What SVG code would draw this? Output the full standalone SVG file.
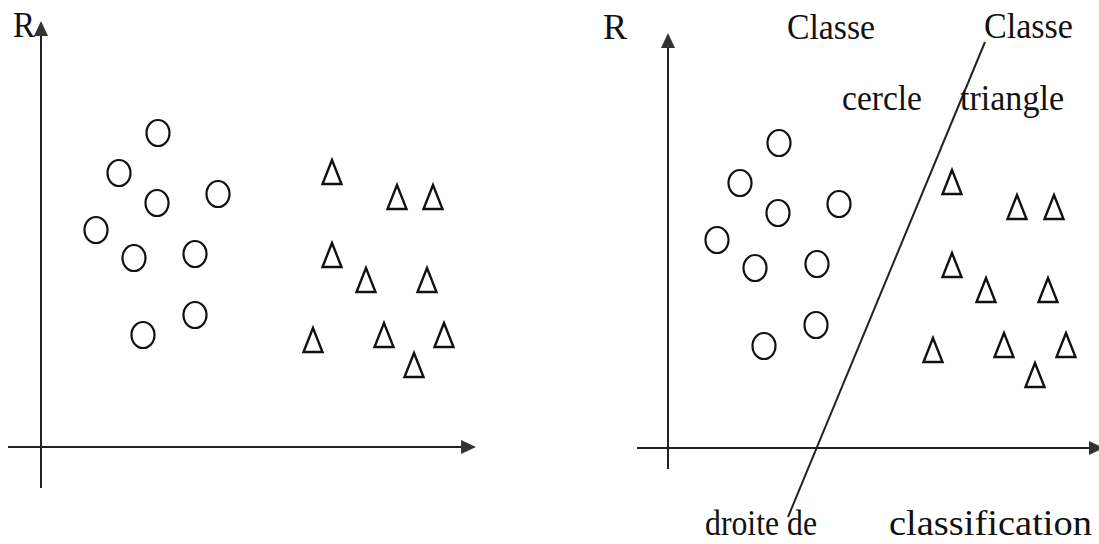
<svg xmlns="http://www.w3.org/2000/svg" xmlns:xlink="http://www.w3.org/1999/xlink" width="1099" height="544" viewBox="0 0 1099 544">
<style>
.ax{stroke:#222;stroke-width:2;fill:none}
.ah{fill:#333;stroke:none}
.c{fill:none;stroke:#111;stroke-width:2.2}
.t{fill:none;stroke:#111;stroke-width:2.4;stroke-linejoin:miter}
.lbl{font-family:"Liberation Serif","Times New Roman",serif;font-size:36px;fill:#111}
</style>
<defs>
<ellipse id="circ" class="c" cx="0" cy="0" rx="11.5" ry="13"/>
<polygon id="tri" class="t" points="0,-12 -9.5,12 9.5,12"/>
</defs>
<rect width="1099" height="544" fill="#fff"/>
<g id="connectors">
<line class="ax" x1="41" y1="488" x2="41" y2="32"/>
<polygon class="ah" points="41,21 34,36 48,36"/>
<line class="ax" x1="8" y1="447" x2="465" y2="447"/>
<polygon class="ah" points="476,447 461,440 461,454"/>
<line class="ax" x1="668" y1="469" x2="668" y2="44"/>
<polygon class="ah" points="668,33 661,48 675,48"/>
<line class="ax" x1="637" y1="448" x2="1093" y2="448"/>
<polygon class="ah" points="1104,448 1089,441 1089,455"/>
<line class="ax" x1="985" y1="42" x2="788" y2="517"/>
</g>
<g id="labels">
<text class="lbl" x="13" y="37" textLength="22" lengthAdjust="spacingAndGlyphs">R</text>
<text class="lbl" x="603" y="39" textLength="24" lengthAdjust="spacingAndGlyphs">R</text>
<text class="lbl" x="787" y="39" textLength="88" lengthAdjust="spacingAndGlyphs">Classe</text>
<text class="lbl" x="984" y="38" textLength="89" lengthAdjust="spacingAndGlyphs">Classe</text>
<text class="lbl" x="842" y="110" textLength="80" lengthAdjust="spacingAndGlyphs">cercle</text>
<text class="lbl" x="960" y="110" textLength="104" lengthAdjust="spacingAndGlyphs">triangle</text>
<text class="lbl" x="705" y="535" textLength="112" lengthAdjust="spacingAndGlyphs">droite de</text>
<text class="lbl" x="889" y="535" textLength="203" lengthAdjust="spacingAndGlyphs">classification</text>
</g>
<g id="left-circles">
<g id="lc1"><use xlink:href="#circ" x="158" y="133"/></g>
<g id="lc2"><use xlink:href="#circ" x="119" y="173"/></g>
<g id="lc3"><use xlink:href="#circ" x="157" y="203"/></g>
<g id="lc4"><use xlink:href="#circ" x="218" y="194"/></g>
<g id="lc5"><use xlink:href="#circ" x="96" y="230"/></g>
<g id="lc6"><use xlink:href="#circ" x="134" y="258"/></g>
<g id="lc7"><use xlink:href="#circ" x="195" y="254"/></g>
<g id="lc8"><use xlink:href="#circ" x="143" y="335"/></g>
<g id="lc9"><use xlink:href="#circ" x="195" y="315"/></g>
</g>
<g id="left-triangles">
<g id="lt1"><use xlink:href="#tri" x="332" y="172"/></g>
<g id="lt2"><use xlink:href="#tri" x="397" y="197"/></g>
<g id="lt3"><use xlink:href="#tri" x="433" y="197"/></g>
<g id="lt4"><use xlink:href="#tri" x="332" y="255"/></g>
<g id="lt5"><use xlink:href="#tri" x="366" y="280"/></g>
<g id="lt6"><use xlink:href="#tri" x="427" y="280"/></g>
<g id="lt7"><use xlink:href="#tri" x="313" y="340"/></g>
<g id="lt8"><use xlink:href="#tri" x="384" y="335"/></g>
<g id="lt9"><use xlink:href="#tri" x="444" y="335"/></g>
<g id="lt10"><use xlink:href="#tri" x="414" y="365"/></g>
</g>
<g id="right-circles">
<g id="rc1"><use xlink:href="#circ" x="779" y="143"/></g>
<g id="rc2"><use xlink:href="#circ" x="740" y="183"/></g>
<g id="rc3"><use xlink:href="#circ" x="778" y="213"/></g>
<g id="rc4"><use xlink:href="#circ" x="839" y="204"/></g>
<g id="rc5"><use xlink:href="#circ" x="717" y="240"/></g>
<g id="rc6"><use xlink:href="#circ" x="755" y="268"/></g>
<g id="rc7"><use xlink:href="#circ" x="817" y="264"/></g>
<g id="rc8"><use xlink:href="#circ" x="764" y="346"/></g>
<g id="rc9"><use xlink:href="#circ" x="816" y="325"/></g>
</g>
<g id="right-triangles">
<g id="rt1"><use xlink:href="#tri" x="952" y="182"/></g>
<g id="rt2"><use xlink:href="#tri" x="1017" y="207"/></g>
<g id="rt3"><use xlink:href="#tri" x="1054" y="207"/></g>
<g id="rt4"><use xlink:href="#tri" x="952" y="265"/></g>
<g id="rt5"><use xlink:href="#tri" x="986" y="290"/></g>
<g id="rt6"><use xlink:href="#tri" x="1048" y="290"/></g>
<g id="rt7"><use xlink:href="#tri" x="933" y="350"/></g>
<g id="rt8"><use xlink:href="#tri" x="1004" y="345"/></g>
<g id="rt9"><use xlink:href="#tri" x="1066" y="345"/></g>
<g id="rt10"><use xlink:href="#tri" x="1035" y="375"/></g>
</g>
</svg>
